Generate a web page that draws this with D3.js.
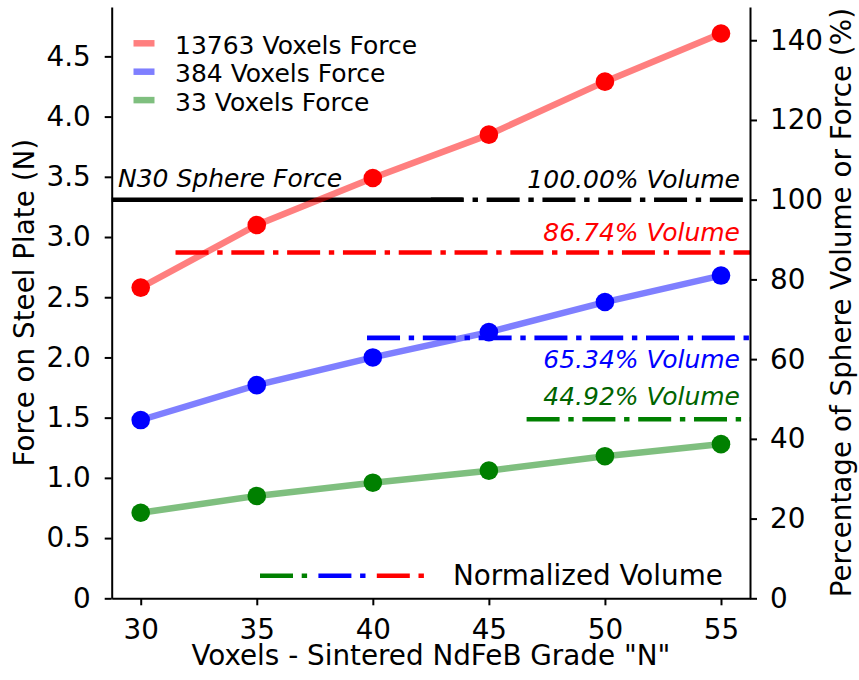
<!DOCTYPE html>
<html>
<head>
<meta charset="utf-8">
<script src="https://cdn.jsdelivr.net/npm/d3@7"></script>
<style>
  body { margin: 0; background: #fff; }
  svg text { font-family: "DejaVu Sans", sans-serif; fill: #000; }
</style>
</head>
<body>
<svg id="chart" width="859" height="680"></svg>
<script>
// Magnet grade (N rating) on the x axis
const grades = [30, 35, 40, 45, 50, 55];

// Measured pull force on the steel plate (N) per voxel count
const force13763 = [2.58, 3.10, 3.49, 3.85, 4.29, 4.69];
const force384   = [1.48, 1.77, 2.00, 2.21, 2.46, 2.68];
const force33    = [0.71, 0.85, 0.96, 1.06, 1.18, 1.28];

const seriesNames = ["13763 Voxels Force", "384 Voxels Force", "33 Voxels Force"];

// Reference force of the solid N30 sphere (N) — defines 100 %
const sphereForce = 3.31;
const sphereLabel = "N30 Sphere Force";

// Voxelised volume as a share of the sphere volume (%)
const volumePercents = [100.00, 86.74, 65.34, 44.92];
const volumeLabels = ["100.00% Volume", "86.74% Volume", "65.34% Volume", "44.92% Volume"];
const volumeLegendLabel = "Normalized Volume";

// Tick values and labels
const forceTicks = [0, 0.5, 1.0, 1.5, 2.0, 2.5, 3.0, 3.5, 4.0, 4.5];
const forceTickLabels = ["0", "0.5", "1.0", "1.5", "2.0", "2.5", "3.0", "3.5", "4.0", "4.5"];
const percentTicks = [0, 20, 40, 60, 80, 100, 120, 140];
const gradeTicks = [30, 35, 40, 45, 50, 55];

const xLabel = 'Voxels - Sintered NdFeB Grade "N"';
const yLabelLeft = "Force on Steel Plate (N)";
const yLabelRight = "Percentage of Sphere Volume or Force (%)";

// ---------------------------------------------------------------
const svg = d3.select("#chart");
const plot = { left: 111.7, right: 750, top: 7, bottom: 598.3 };
const GREEN = "#008000";
const DASHDOT = "33 8.7 5.4 8.7";
const tickFont = "27.8px";
const noteFont = "25px";

const forceMax = 4.91;
const x = d3.scaleLinear().domain([28.75, 56.25]).range([plot.left, plot.right]);
const y = d3.scaleLinear().domain([0, forceMax]).range([plot.bottom, plot.top]);
const yPct = d3.scaleLinear().domain([0, forceMax / sphereForce * 100]).range([plot.bottom, plot.top]);

// Volume reference lines: colour, start as fraction of axis width, label placement
const volumeStyles = [
  { color: "#000", text: "#000", from: 0.5, dy: -12 },
  { color: "red", text: "red", from: 0.1, dy: -12 },
  { color: "blue", text: "blue", from: 0.4, dy: 30 },
  { color: GREEN, text: "#006400", from: 0.65, dy: -14 }
];
const fracX = f => plot.left + f * (plot.right - plot.left);

// Solid line for the sphere force (left axis)
svg.append("line")
  .attr("x1", plot.left).attr("x2", fracX(0.55))
  .attr("y1", y(sphereForce)).attr("y2", y(sphereForce))
  .attr("stroke", "#000").attr("stroke-width", 4.6);

svg.append("text")
  .attr("x", 118).attr("y", y(sphereForce) - 13)
  .attr("font-size", noteFont).attr("font-style", "italic")
  .text(sphereLabel);

// Dash-dot volume lines (right axis)
volumePercents.forEach((v, i) => {
  const s = volumeStyles[i];
  svg.append("line")
    .attr("x1", fracX(s.from)).attr("x2", plot.right)
    .attr("y1", yPct(v)).attr("y2", yPct(v))
    .attr("stroke", s.color).attr("stroke-width", 4.6)
    .attr("stroke-dasharray", DASHDOT);
  svg.append("text")
    .attr("x", 740).attr("y", yPct(v) + s.dy)
    .attr("text-anchor", "end")
    .attr("font-size", noteFont).attr("font-style", "italic")
    .style("fill", s.text)
    .text(volumeLabels[i]);
});

// Force series
const series = [
  { name: seriesNames[0], values: force13763, color: "red" },
  { name: seriesNames[1], values: force384, color: "blue" },
  { name: seriesNames[2], values: force33, color: GREEN }
];
const line = d3.line().x((d, i) => x(grades[i])).y(d => y(d));
series.forEach(s => {
  svg.append("path")
    .datum(s.values)
    .attr("d", line)
    .attr("fill", "none")
    .attr("stroke", s.color).attr("stroke-opacity", 0.5)
    .attr("stroke-width", 6.5)
    .attr("stroke-linecap", "square");
});
series.forEach(s => {
  svg.append("g").selectAll("circle")
    .data(s.values).join("circle")
    .attr("cx", (d, i) => x(grades[i]))
    .attr("cy", d => y(d))
    .attr("r", 9.3)
    .attr("fill", s.color);
});

// Axes
function styleAxis(g) {
  g.selectAll(".domain").attr("stroke", "#000").attr("stroke-width", 2);
  g.selectAll(".tick line").attr("stroke", "#000").attr("stroke-width", 2);
  g.selectAll(".tick text").attr("font-size", tickFont).attr("fill", "#000")
    .attr("font-family", '"DejaVu Sans", sans-serif');
}

svg.append("g")
  .attr("transform", `translate(0,${plot.bottom})`)
  .call(d3.axisBottom(x).tickValues(gradeTicks).tickFormat(d3.format("d"))
    .tickSize(7).tickSizeOuter(0).tickPadding(14))
  .call(styleAxis);

svg.append("g")
  .attr("transform", `translate(${plot.left},0)`)
  .call(d3.axisLeft(y).tickValues(forceTicks).tickFormat((d, i) => forceTickLabels[i])
    .tickSize(7).tickSizeOuter(0).tickPadding(14))
  .call(styleAxis);

svg.append("g")
  .attr("transform", `translate(${plot.right},0)`)
  .call(d3.axisRight(yPct).tickValues(percentTicks).tickFormat(d3.format("d"))
    .tickSize(7).tickSizeOuter(0).tickPadding(13))
  .call(styleAxis);

// Axis titles
svg.append("text")
  .attr("x", (plot.left + plot.right) / 2).attr("y", 665)
  .attr("text-anchor", "middle").attr("font-size", tickFont)
  .text(xLabel);

svg.append("text")
  .attr("transform", `translate(34,${(plot.top + plot.bottom) / 2}) rotate(-90)`)
  .attr("text-anchor", "middle").attr("font-size", tickFont)
  .text(yLabelLeft);

svg.append("text")
  .attr("transform", `translate(851,${(plot.top + plot.bottom) / 2}) rotate(-90)`)
  .attr("text-anchor", "middle").attr("font-size", tickFont)
  .text(yLabelRight);

// Series legend (top left)
const legend = svg.append("g");
series.forEach((s, i) => {
  const cy = 43.3 + i * 28.4;
  legend.append("line")
    .attr("x1", 133.5).attr("x2", 154.5).attr("y1", cy).attr("y2", cy)
    .attr("stroke", s.color).attr("stroke-opacity", 0.5).attr("stroke-width", 6.5);
  legend.append("text")
    .attr("x", 175).attr("y", cy + 10.5)
    .attr("font-size", noteFont)
    .text(s.name);
});

// Volume legend (bottom right): green, blue, red dash-dot handles
const volLegendColors = [volumeStyles[3].color, volumeStyles[2].color, volumeStyles[1].color];
volLegendColors.forEach((c, i) => {
  const x0 = 260 + i * 58.4;
  svg.append("line")
    .attr("x1", x0).attr("x2", x0 + 48)
    .attr("y1", 575.7).attr("y2", 575.7)
    .attr("stroke", c).attr("stroke-width", 4.6)
    .attr("stroke-dasharray", DASHDOT);
});
svg.append("text")
  .attr("x", 453).attr("y", 585)
  .attr("font-size", tickFont)
  .text(volumeLegendLabel);
</script>
</body>
</html>
